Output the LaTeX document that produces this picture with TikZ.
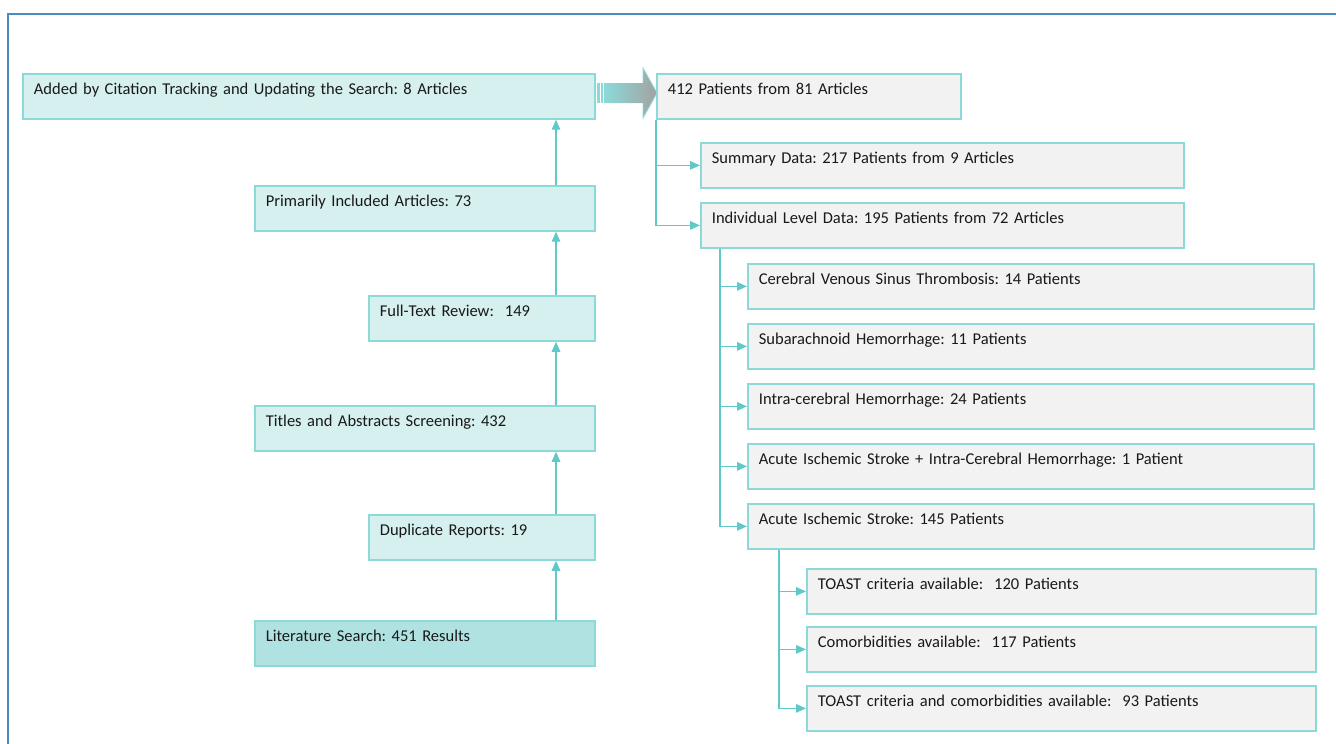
\documentclass[tikz,border=0pt]{standalone}
\usepackage{fontspec}
\setmainfont{Carlito}
\frenchspacing
\usetikzlibrary{arrows.meta,shapes}
\definecolor{tealline}{RGB}{140,218,216}
\definecolor{tealarrow}{RGB}{94,201,200}
\definecolor{tealfill}{RGB}{214,239,239}
\definecolor{tealdark}{RGB}{176,226,225}
\definecolor{boxgrey}{RGB}{242,242,242}
\definecolor{textgrey}{RGB}{25,25,25}
\definecolor{frameblue}{RGB}{74,140,194}
\definecolor{arrowgrey}{RGB}{162,162,162}

\begin{document}
\begin{tikzpicture}[x=0.02cm, y=-0.02cm,
    box/.style={draw=tealline, line width=1pt, anchor=north west, inner xsep=0.22cm, inner ysep=0pt,
                text height=0.42cm, text depth=0.48cm, align=left, text=textgrey,
                font=\fontsize{9.4}{11.5}\selectfont},
    search/.style={box, fill=tealfill},
    result/.style={box, fill=boxgrey},
    link/.style={draw=tealarrow, line width=0.8pt, -{Triangle[length=2mm,width=1.7mm]}}
]
\useasboundingbox (0,0) rectangle (1336,744);

% Frame
\draw[frameblue, line width=1.2pt] (8,744) -- (8,14) -- (1336,14);

%, Left column: search steps (bottom to top) ---
\node[search, text width=11.0cm] (added) at (22,73) {Added by Citation Tracking and Updating the Search: 8 Articles};
\node[search, text width=6.36cm] (primary) at (254,185) {Primarily Included Articles: 73};
\node[search, text width=4.08cm] (fulltext) at (368,295) {Full-Text Review:\ \ 149};
\node[search, text width=6.36cm] (titles) at (254,405) {Titles and Abstracts Screening: 432};
\node[search, text width=4.08cm] (dup) at (368,514) {Duplicate Reports: 19};
\node[box, fill=tealdark, text width=6.36cm] (lit) at (254,620) {Literature Search: 451 Results};

\coordinate (spine) at (556,0);
\draw[link] (lit.north -| spine) -- (dup.south -| spine);
\draw[link] (dup.north -| spine) -- (titles.south -| spine);
\draw[link] (titles.north -| spine) -- (fulltext.south -| spine);
\draw[link] (fulltext.north -| spine) -- (primary.south -| spine);
\draw[link] (primary.north -| spine) -- (added.south -| spine);

%, Striped block arrow ---
\fill[tealline] (597,83) rectangle (600,103);
\fill[tealline] (601,83) rectangle (603,103);
\shade[left color=tealline, right color=arrowgrey] (604,83) -- (643,83) -- (643,68) -- (657,93)
    -- (643,118) -- (643,103) -- (604,103) -- cycle;
\draw[tealline, line width=0.5pt] (643,83) -- (643,68) -- (657,93) -- (643,118) -- (643,103);

%, Right column: patients ---
\node[result, text width=5.64cm] (pooled) at (656,73) {412 Patients from 81 Articles};
\node[result, text width=9.22cm] (summary) at (700,142) {Summary Data: 217 Patients from 9 Articles};
\node[result, text width=9.22cm] (indiv) at (700,202) {Individual Level Data: 195 Patients from 72 Articles};

\draw[link] (pooled.south west) |- (summary.west);
\draw[link] (pooled.south west) |- (indiv.west);

% Individual level data by diagnosis
\node[result, text width=10.88cm] (cvst) at (747,263) {Cerebral Venous Sinus Thrombosis: 14 Patients};
\node[result, text width=10.88cm] (sah) at (747,323) {Subarachnoid Hemorrhage: 11 Patients};
\node[result, text width=10.88cm] (ich) at (747,383) {Intra-cerebral Hemorrhage: 24 Patients};
\node[result, text width=10.88cm] (aisich) at (747,443) {Acute Ischemic Stroke + Intra-Cerebral Hemorrhage: 1 Patient};
\node[result, text width=10.88cm] (ais) at (747,503) {Acute Ischemic Stroke: 145 Patients};

\coordinate (trunkB) at (720,0);
\foreach \n in {cvst,sah,ich,aisich,ais}
    \draw[link] (indiv.south -| trunkB) |- (\n.west);

% Acute ischemic stroke subsets
\node[result, text width=9.74cm] (toast) at (806,568) {TOAST criteria available:\ \ 120 Patients};
\node[result, text width=9.74cm] (comorb) at (806,626) {Comorbidities available:\ \ 117 Patients};
\node[result, text width=9.74cm] (both) at (806,685) {TOAST criteria and comorbidities available:\ \ 93 Patients};

\coordinate (trunkC) at (779,0);
\foreach \n in {toast,comorb,both}
    \draw[link] (ais.south -| trunkC) |- (\n.west);
\end{tikzpicture}
\end{document}
